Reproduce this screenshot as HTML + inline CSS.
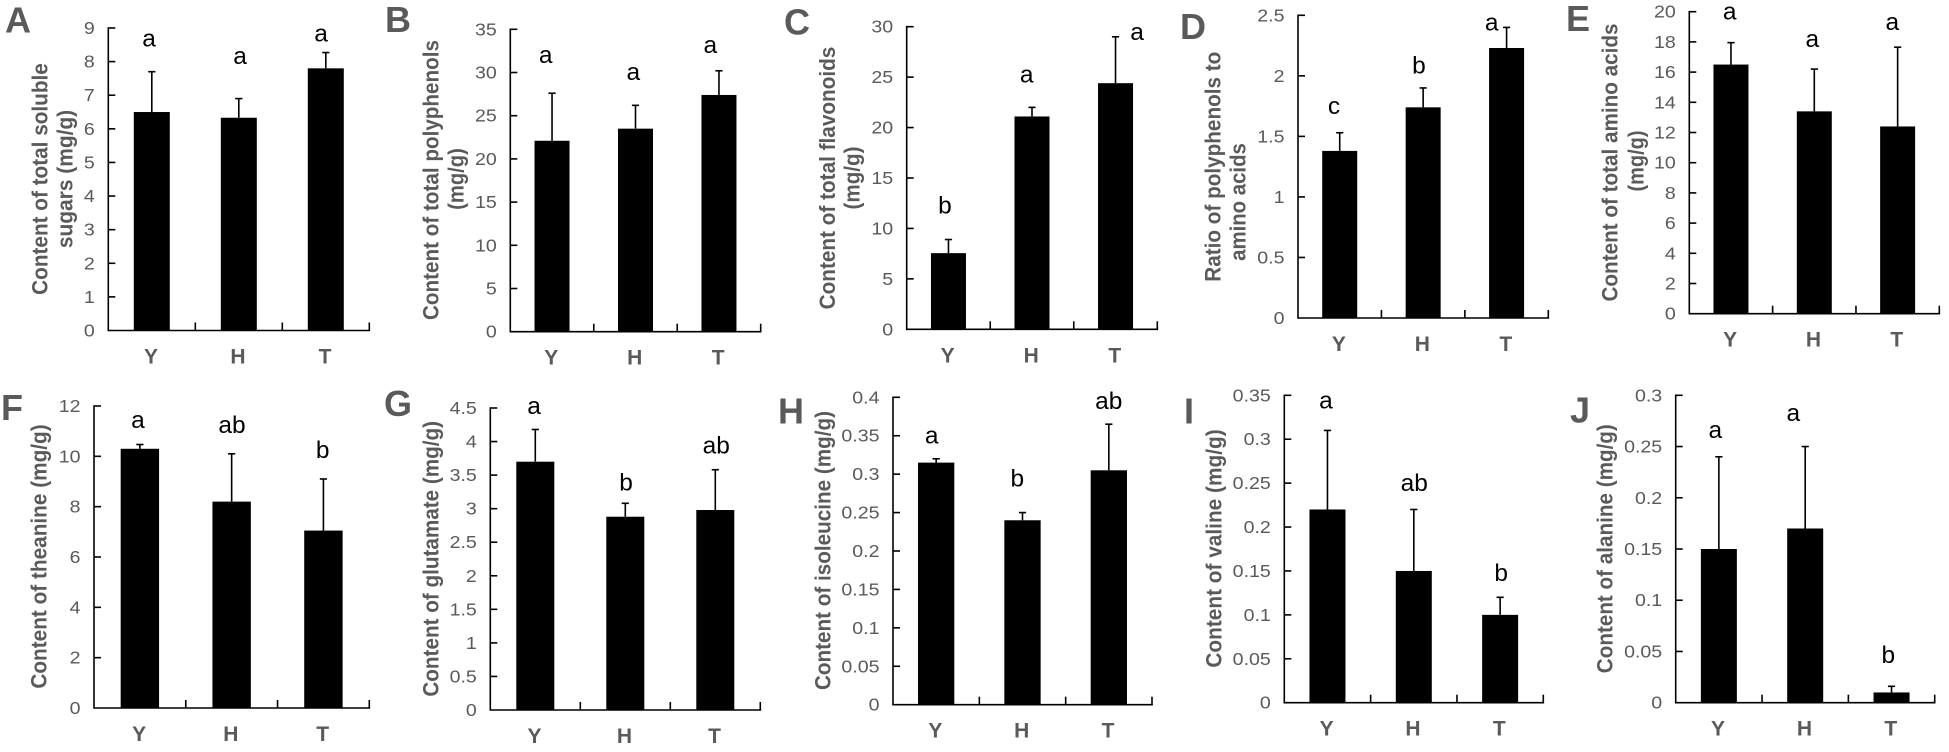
<!DOCTYPE html>
<html lang="en">
<head>
<meta charset="utf-8">
<title>Tea quality components by group</title>
<style>
  html, body { margin: 0; padding: 0; background: #fff; }
  svg { display: block; font-family: "Liberation Sans", sans-serif; }
</style>
</head>
<body>
<svg id="figure" xmlns="http://www.w3.org/2000/svg" width="1949" height="752" viewBox="0 0 1949 752"></svg>
<script>
// ---- data ----
const categories = ["Y", "H", "T"];

const aValues = [6.5, 6.33, 7.8];
const aErrors = [1.2, 0.57, 0.47];
const aTicks = [0, 1, 2, 3, 4, 5, 6, 7, 8, 9];
const aLetters = ["a", "a", "a"];

const bValues = [22.1, 23.5, 27.4];
const bErrors = [5.5, 2.7, 2.8];
const bTicks = [0, 5, 10, 15, 20, 25, 30, 35];
const bLetters = ["a", "a", "a"];

const cValues = [7.55, 21.1, 24.4];
const cErrors = [1.35, 0.9, 4.6];
const cTicks = [0, 5, 10, 15, 20, 25, 30];
const cLetters = ["b", "a", "a"];

const dValues = [1.38, 1.74, 2.23];
const dErrors = [0.15, 0.16, 0.17];
const dTicks = [0, 0.5, 1, 1.5, 2, 2.5];
const dLetters = ["c", "b", "a"];

const eValues = [16.5, 13.4, 12.4];
const eErrors = [1.45, 2.8, 5.25];
const eTicks = [0, 2, 4, 6, 8, 10, 12, 14, 16, 18, 20];
const eLetters = ["a", "a", "a"];

const fValues = [10.3, 8.2, 7.05];
const fErrors = [0.17, 1.9, 2.05];
const fTicks = [0, 2, 4, 6, 8, 10, 12];
const fLetters = ["a", "ab", "b"];

const gValues = [3.7, 2.88, 2.98];
const gErrors = [0.48, 0.2, 0.6];
const gTicks = [0, 0.5, 1, 1.5, 2, 2.5, 3, 3.5, 4, 4.5];
const gLetters = ["a", "b", "ab"];

const hValues = [0.315, 0.24, 0.305];
const hErrors = [0.005, 0.01, 0.06];
const hTicks = [0, 0.05, 0.1, 0.15, 0.2, 0.25, 0.3, 0.35, 0.4];
const hLetters = ["a", "b", "ab"];

const iValues = [0.22, 0.15, 0.1];
const iErrors = [0.09, 0.07, 0.02];
const iTicks = [0, 0.05, 0.1, 0.15, 0.2, 0.25, 0.3, 0.35];
const iLetters = ["a", "ab", "b"];

const jValues = [0.15, 0.17, 0.01];
const jErrors = [0.09, 0.08, 0.006];
const jTicks = [0, 0.05, 0.1, 0.15, 0.2, 0.25, 0.3];
const jLetters = ["a", "a", "b"];

// ---- layout (pixel geometry, kept apart from the data) ----
const panels = [
  { id: "a", label: "A", vals: aValues, errs: aErrors, ticks: aTicks, letters: aLetters,
    x0: 108.3, x1: 369.3, yTop: 28, yBot: 330.5, barW: 36, lx: 5, ly: 32.3,
    dx: [-2.8, 1.2, -4.8], gap: [25, 34.7, 11],
    title: [["Content of total soluble", 47.7, 179, 231.7], ["sugars (mg/g)", 72.3, 179, 138.3]] },
  { id: "b", label: "B", vals: bValues, errs: bErrors, ticks: bTicks, letters: bLetters,
    x0: 510.3, x1: 760.7, yTop: 29.3, yBot: 331.7, barW: 35, lx: 385, ly: 32,
    dx: [-6.3, -2.2, -8.7], gap: [30, 25.3, 18],
    title: [["Content of total polyphenols", 438.3, 180, 280], ["(mg/g)", 463.3, 179, 61.7]] },
  { id: "c", label: "C", vals: cValues, errs: cErrors, ticks: cTicks, letters: cLetters,
    x0: 906.7, x1: 1157.3, yTop: 26.7, yBot: 329.3, barW: 35, lx: 784, ly: 34.5,
    dx: [-3.5, -5.3, 21.5], gap: [26, 25, -3.4],
    title: [["Content of total flavonoids", 835, 178, 262.7], ["(mg/g)", 859.3, 178, 63]] },
  { id: "d", label: "D", vals: dValues, errs: dErrors, ticks: dTicks, letters: dLetters,
    x0: 1298, x1: 1548.3, yTop: 15.3, yBot: 318, barW: 35, lx: 1180, ly: 39,
    dx: [-5.7, -4.2, -14.9], gap: [18.6, 14.3, -3.3],
    title: [["Ratio of polyphenols to", 1220.7, 166.7, 230], ["amino acids", 1245.7, 202, 117.7]] },
  { id: "e", label: "E", vals: eValues, errs: eErrors, ticks: eTicks, letters: eLetters,
    x0: 1689.3, x1: 1939.3, yTop: 11.7, yBot: 313.7, barW: 35, lx: 1566, ly: 31,
    dx: [-1.3, -2, -5.3], gap: [23.4, 22.3, 17],
    title: [["Content of total amino acids", 1617.3, 162.5, 278], ["(mg/g)", 1643.3, 161, 61]] },
  { id: "f", label: "F", vals: fValues, errs: fErrors, ticks: fTicks, letters: fLetters,
    x0: 94, x1: 369.3, yTop: 406, yBot: 708, barW: 38.4, lx: 1, ly: 420,
    dx: [-1.9, 0.4, -0.7], gap: [16.7, 21, 21],
    title: [["Content of theanine (mg/g)", 46.7, 556.5, 264.3]] },
  { id: "g", label: "G", vals: gValues, errs: gErrors, ticks: gTicks, letters: gLetters,
    x0: 490.3, x1: 760.3, yTop: 408, yBot: 710, barW: 38, lx: 384, ly: 416,
    dx: [-1.3, 0.7, 1], gap: [15.6, 12.7, 16],
    title: [["Content of glutamate (mg/g)", 438.3, 558.8, 275.7]] },
  { id: "h", label: "H", vals: hValues, errs: hErrors, ticks: hTicks, letters: hLetters,
    x0: 893, x1: 1152, yTop: 397.3, yBot: 704.7, barW: 36.3, lx: 778, ly: 423.7,
    dx: [-4.5, -5.2, -0.1], gap: [15.3, 26, 15],
    title: [["Content of isoleucine (mg/g)", 830.7, 550.5, 279]] },
  { id: "i", label: "I", vals: iValues, errs: iErrors, ticks: iTicks, letters: iLetters,
    x0: 1284.3, x1: 1543.3, yTop: 395.3, yBot: 702.7, barW: 36, lx: 1184, ly: 423.7,
    dx: [-1.5, 0.5, 1.1], gap: [22, 18.7, 16.3],
    title: [["Content of valine (mg/g)", 1221.7, 548.5, 238.3]] },
  { id: "j", label: "J", vals: jValues, errs: jErrors, ticks: jTicks, letters: jLetters,
    x0: 1675.7, x1: 1934.7, yTop: 395.3, yBot: 702.7, barW: 36, lx: 1570, ly: 422.7,
    dx: [-3.6, -11.9, -3.2], gap: [19, 25.6, 23.3],
    title: [["Content of alanine (mg/g)", 1612.3, 548.7, 249]] }
];

// ---- drawing ----
const NS = "http://www.w3.org/2000/svg";
const INK = "#000";
const GREY = "#5a5a5a";
const AXIS_W = 1.6;
const figure = document.getElementById("figure");

function make(tag, parent, attrs, text) {
  const node = document.createElementNS(NS, tag);
  for (const key in attrs) node.setAttribute(key, attrs[key]);
  if (text !== undefined) node.textContent = text;
  parent.appendChild(node);
  return node;
}

function line(parent, x1, y1, x2, y2, w) {
  return make("line", parent, { x1: x1, y1: y1, x2: x2, y2: y2, stroke: INK, "stroke-width": w });
}

panels.forEach(function (p) {
  const maxTick = p.ticks[p.ticks.length - 1];
  const yScale = function (v) { return p.yBot - (v / maxTick) * (p.yBot - p.yTop); };
  const slot = (p.x1 - p.x0) / categories.length;
  const xScale = function (i) { return p.x0 + slot * (i + 0.5); };

  const g = make("g", figure, {});
  
  

  const panelLabel = make("text", g, { x: p.lx, y: p.ly, "font-size": 36, "font-weight": "bold", fill: GREY }, p.label);
  
  

  // y-axis title
  p.title.forEach(function (t, n) {
    const title = make("text", g, {
      transform: "translate(" + t[1] + "," + t[2] + ") rotate(-90)",
      "text-anchor": "middle", "font-size": 22, "font-weight": "bold", fill: GREY,
      textLength: t[3], lengthAdjust: "spacingAndGlyphs"
    }, t[0]);
    
    
  });

  // bars and error bars
  p.vals.forEach(function (v, i) {
    const cx = xScale(i);
    const top = v + p.errs[i];
    const bar = make("rect", g, { x: cx - p.barW / 2, y: yScale(v), width: p.barW, height: p.yBot - yScale(v), fill: INK });
    
    

    const eg = make("g", g, {});
    
    
    line(eg, cx, yScale(v), cx, yScale(top), 1.6);
    line(eg, cx - 3.6, yScale(top), cx + 3.6, yScale(top), 1.6);

    const letter = make("text", g, {
      transform: "translate(" + (cx + p.dx[i]) + "," + (yScale(top) - p.gap[i]) + ") scale(1.02,1)",
      "text-anchor": "middle", "font-size": 24, fill: INK
    }, p.letters[i]);
    
    

    const catLabel = make("text", g, {
      x: cx - 0.8, y: p.yBot + 33, "text-anchor": "middle", "font-size": 21, "font-weight": "bold", fill: GREY
    }, categories[i]);
    
    
  });

  // axes
  const axes = make("g", g, {});
  
  
  line(axes, p.x0, p.yTop - 0.8, p.x0, p.yBot + 0.8, AXIS_W);
  line(axes, p.x0, p.yBot, p.x1 + 0.8, p.yBot, AXIS_W);
  for (let k = 1; k <= categories.length; k++) {
    const tx = p.x0 + slot * k;
    line(axes, tx, p.yBot, tx, p.yBot - 8, AXIS_W);
  }
  p.ticks.forEach(function (tv) {
    const ty = yScale(tv);
    if (tv !== 0) line(axes, p.x0, ty, p.x0 + 7, ty, AXIS_W);
    const tickLabel = make("text", g, {
      transform: "translate(" + (p.x0 - 13.5) + "," + (ty + 6) + ") scale(1.12,1)",
      "text-anchor": "end", "font-size": 17.5, fill: GREY
    }, String(tv));
    
    
  });
});
</script>
</body>
</html>
